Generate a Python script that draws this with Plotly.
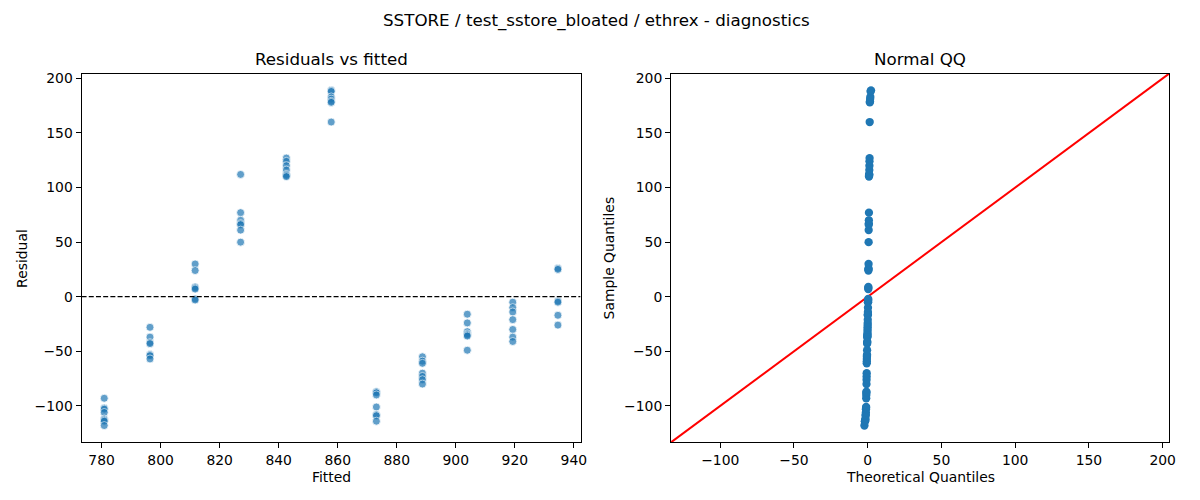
import plotly.graph_objects as go
from statistics import NormalDist

# ---- data ----
fitted_levels = [780.9, 796.4, 811.7, 827.1, 842.6, 857.8, 873.1, 888.7, 903.9, 919.3, 934.6]
resid_g1 = [-93, -102, -103, -106, -112, -113, -114, -118]
resid_g2 = [-28, -37, -42, -43, -53, -54, -57]
resid_g3 = [30, 24, 9, 8, 7, -2, -3]
resid_g4 = [112, 77, 70, 67, 66, 61, 50]
resid_g5 = [127, 124, 120, 116, 112, 111, 110]
resid_g6 = [189, 188, 183, 181, 179, 178, 160]
resid_g7 = [-87, -88, -90, -101, -108, -109, -114]
resid_g8 = [-55, -59, -61, -70, -73, -76, -80]
resid_g9 = [-16, -24, -32, -34, -35, -36, -49]
resid_g10 = [-5, -10, -14, -21, -30, -37, -41]
resid_g11 = [26, 25, -4, -5, -17, -26]

left_xticks = [780, 800, 820, 840, 860, 880, 900, 920, 940]
left_yticks = [-100, -50, 0, 50, 100, 150, 200]
right_xticks = [-100, -50, 0, 50, 100, 150, 200]
right_yticks = [-100, -50, 0, 50, 100, 150, 200]

groups = [resid_g1, resid_g2, resid_g3, resid_g4, resid_g5, resid_g6,
          resid_g7, resid_g8, resid_g9, resid_g10, resid_g11]

fitted = []
resid = []
for fv, g in zip(fitted_levels, groups):
    for r in g:
        fitted.append(fv)
        resid.append(r)

n = len(resid)
sample_q = sorted(resid)
nd = NormalDist()
theo_q = [nd.inv_cdf(i / (n + 1)) for i in range(1, n + 1)]

# axis limits (matplotlib 5% margins)
def pad(lo, hi, m=0.05):
    d = hi - lo
    return [lo - m * d, hi + m * d]

lx = pad(min(fitted), max(fitted))
ly = pad(min(resid), max(resid))
qlo = min(ly[0], pad(min(theo_q), max(theo_q))[0])
qhi = max(ly[1], pad(min(theo_q), max(theo_q))[1])
qrange = [qlo, qhi]

FONT = "DejaVu Sans"
OFF = 8  # page body margin
W, H = 1200 - 2 * OFF, 500 - 2 * OFF
C0 = "#1f77b4"

fig = go.Figure()

fig.add_trace(go.Scatter(
    x=fitted, y=resid, mode="markers", xaxis="x", yaxis="y",
    marker=dict(size=8, color=C0, opacity=0.7, line=dict(color="white", width=0.8)),
    showlegend=False, hoverinfo="skip"))

fig.add_trace(go.Scatter(
    x=lx, y=[0, 0], mode="lines", xaxis="x", yaxis="y",
    line=dict(color="black", width=1.3, dash="5px,2.2px"),
    showlegend=False, hoverinfo="skip"))

fig.add_trace(go.Scatter(
    x=qrange, y=qrange, mode="lines", xaxis="x2", yaxis="y2",
    line=dict(color="red", width=2),
    showlegend=False, hoverinfo="skip"))

fig.add_trace(go.Scatter(
    x=theo_q, y=sample_q, mode="markers", xaxis="x2", yaxis="y2",
    marker=dict(size=8.3, color=C0, line=dict(width=0)),
    showlegend=False, hoverinfo="skip"))

def px_x(p):
    return (p - OFF) / W

def px_y(p):
    return 1 - (p - OFF) / H

axis_common = dict(
    showline=True, linecolor="black", linewidth=1.1, mirror=True,
    ticks="outside", ticklen=5, tickwidth=1.1, tickcolor="black",
    showgrid=False, zeroline=False,
    tickfont=dict(family=FONT, size=13.9, color="black"),
)

L0, L1 = 82, 584
R0, R1 = 675, 1176
T, B = 71, 442

fig.update_layout(
    width=W, height=H,
    margin=dict(l=0, r=0, t=0, b=0),
    paper_bgcolor="white", plot_bgcolor="white",
    font=dict(family=FONT, color="black"),
    xaxis=dict(domain=[px_x(L0), px_x(L1)], range=lx, tickvals=left_xticks,
               anchor="y", **axis_common),
    yaxis=dict(domain=[px_y(B), px_y(T)], range=ly, tickvals=left_yticks,
               anchor="x", **axis_common),
    xaxis2=dict(domain=[px_x(R0), px_x(R1)], range=qrange, tickvals=right_xticks,
                anchor="y2", **axis_common),
    yaxis2=dict(domain=[px_y(B), px_y(T)], range=qrange, tickvals=right_yticks,
                anchor="x2", **axis_common),
)

def ann(text, x, y, size, angle=0):
    fig.add_annotation(text=text, x=px_x(x), y=px_y(y), xref="paper", yref="paper",
                       showarrow=False, xanchor="center", yanchor="middle",
                       textangle=angle,
                       font=dict(family=FONT, size=size, color="black"))

ann("SSTORE / test_sstore_bloated / ethrex - diagnostics", 600, 18, 16.7)
ann("Residuals vs fitted", (L0 + L1) / 2, 56, 16.7)
ann("Normal QQ", (R0 + R1) / 2, 56, 16.7)
ann("Fitted", (L0 + L1) / 2, 477, 13.9)
ann("Theoretical Quantiles", (R0 + R1) / 2, 477, 13.9)
ann("Residual", 22, (T + B) / 2, 13.9, -90)
ann("Sample Quantiles", 613, (T + B) / 2, 13.9, -90)

fig.write_html("out.html")
